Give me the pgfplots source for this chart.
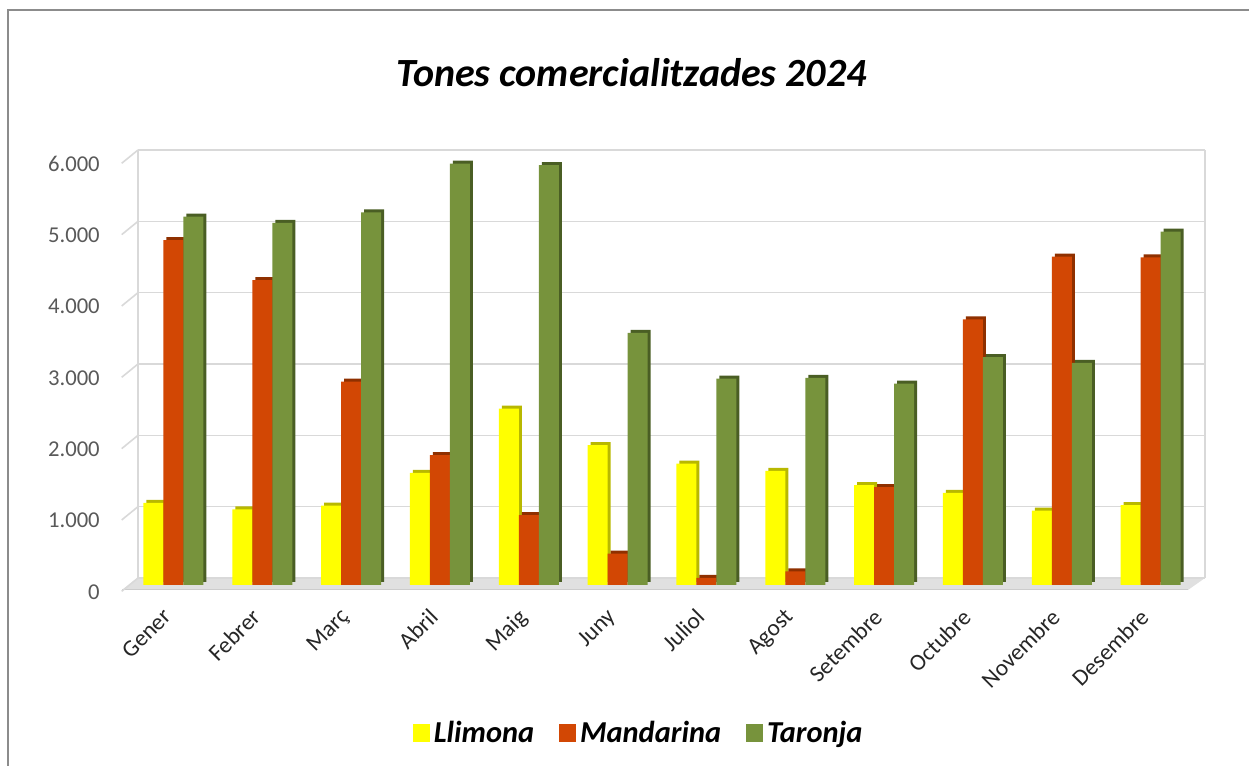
\documentclass[border=0pt]{standalone}
\usepackage{pgfplots}
\usepackage{pgfplotstable}
\pgfplotsset{compat=1.18}
\usepackage{fontspec}
\setmainfont{Carlito}
\definecolor{cL}{HTML}{FFFF00}
\definecolor{cLd}{HTML}{B8B800}
\definecolor{cM}{HTML}{D24704}
\definecolor{cMd}{HTML}{8F3000}
\definecolor{cT}{HTML}{77933C}
\definecolor{cTd}{HTML}{4A5E24}
\definecolor{gridc}{HTML}{D9D9D9}
\definecolor{ticklab}{HTML}{595959}

\pgfplotstableread{
x L M T
0 1150 4830 5160
1 1060 4270 5070
2 1110 2850 5220
3 1570 1820 5900
4 2470 980 5880
5 1960 440 3530
6 1700 100 2890
7 1600 190 2900
8 1400 1370 2820
9 1290 3720 3190
10 1040 4600 3110
11 1120 4590 4950
}\datatable

\begin{document}
\begin{tikzpicture}
\begin{scope}[x=0.75pt,y=0.75pt]
\useasboundingbox (0,0) rectangle (1249,766);
% outer frame
\draw[color=black!45, line width=1.5pt] (8,-60) rectangle (1320,756);
% title
\node[anchor=base, font=\fontsize{30pt}{36pt}\selectfont\bfseries\itshape] at (631.5,679) {Tones comercialitzades 2024};
% floor
\fill[black!12] (122,176) -- (1188,176) -- (1205,188) -- (138,188) -- cycle;
\draw[black!20, line width=0.75pt] (122,176) -- (1188,176);
% back wall
\draw[gridc, line width=1.2pt] (138,188) -- (138,616);
\draw[gridc, line width=1.2pt] (1205,188) -- (1205,616);
\foreach \Y in {188,259.33,330.67,402,473.33,544.67,616} {
  \draw[gridc, line width=1.2pt] (138,\Y) -- (1205,\Y);
  \draw[gridc, line width=1.2pt] (121.7,\Y-13.3) -- (138,\Y);
}
\end{scope}
\begin{axis}[
  at={(96.75pt,135.75pt)}, anchor=south west,
  scale only axis, width=799.5pt, height=321.3pt,
  xmin=-0.5, xmax=11.5, ymin=0, ymax=6000,
  clip=false,
  ybar, bar width=15pt,
  axis line style={draw=none},
  major tick length=0pt,
  xtick={0,...,11},
  xticklabels={Gener,Febrer,Març,Abril,Maig,Juny,Juliol,Agost,Setembre,Octubre,Novembre,Desembre},
  xticklabel style={xshift=-9pt, yshift=-16.5pt, rotate=45, anchor=north east, inner sep=0pt,
    font=\fontsize{17.5pt}{20pt}\selectfont, text=black!85},
  ytick={0,1000,...,6000},
  yticklabel style={anchor=east, inner sep=0pt, xshift=-21.75pt, yshift=-5.3pt,
    font=\fontsize{17pt}{20pt}\selectfont, text=ticklab},
  /pgf/number format/.cd, 1000 sep={.}, assume math mode=true,
  /pgfplots/.cd,
  legend columns=3,
  legend style={at={(0.479,-0.3455)}, anchor=center, draw=none, fill=none,
    font=\fontsize{22.8pt}{26pt}\selectfont\bfseries\itshape,
    /tikz/every even column/.append style={column sep=15.75pt},
    nodes={inner sep=3pt}},
  legend image code/.code={\fill[#1] (0pt,-6.4pt) rectangle (12.75pt,6.4pt);},
]
\addplot[fill=cLd, draw=none, bar shift=-15pt, xshift=2.25pt, yshift=2.25pt, forget plot] table[x=x,y=L]{\datatable};
\addplot[fill=cL, draw=none, bar shift=-15pt] table[x=x,y=L]{\datatable};
\addlegendentry{Llimona}
\addplot[fill=cMd, draw=none, bar shift=0pt, xshift=2.25pt, yshift=2.25pt, forget plot] table[x=x,y=M]{\datatable};
\addplot[fill=cM, draw=none, bar shift=0pt] table[x=x,y=M]{\datatable};
\addlegendentry{Mandarina}
\addplot[fill=cTd, draw=none, bar shift=15pt, xshift=2.25pt, yshift=2.25pt, forget plot] table[x=x,y=T]{\datatable};
\addplot[fill=cT, draw=none, bar shift=15pt] table[x=x,y=T]{\datatable};
\addlegendentry{Taronja}
\end{axis}
\end{tikzpicture}
\end{document}
